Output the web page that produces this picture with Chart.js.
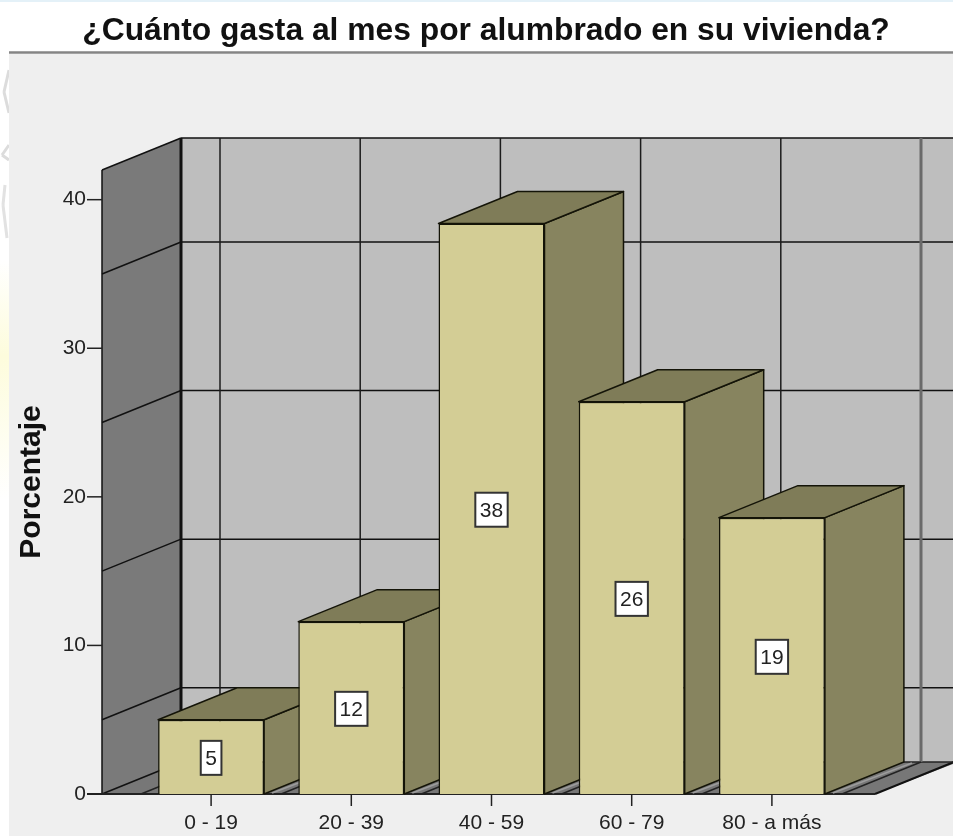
<!DOCTYPE html>
<html lang="es">
<head>
<meta charset="utf-8">
<title>Gasto mensual en alumbrado</title>
<script src="https://cdn.jsdelivr.net/npm/chart.js@4"></script>
<style>
html,body{margin:0;padding:0;background:#fff}
canvas{display:block}
</style>
</head>
<body>
<canvas id="c" width="953" height="836"></canvas>
<script>
const categories = ['0 - 19', '20 - 39', '40 - 59', '60 - 79', '80 - a más'];
const percentages = [5.0, 11.6, 38.4, 26.4, 18.6];
const barLabels = ['5', '12', '38', '26', '19'];
const gridValues = [5, 15, 25, 35];
const chartTitle = '¿Cuánto gasta al mes por alumbrado en su vivienda?';
const yTitle = 'Porcentaje';

const FONT = '"Liberation Sans", Arial, sans-serif';
const DX = 79, DY = 32;
const WALL_IN = 39, FLOOR_OUT = 33;

function poly(ctx, pts, fill, stroke, lw) {
  ctx.beginPath();
  pts.forEach((p, i) => i ? ctx.lineTo(p[0], p[1]) : ctx.moveTo(p[0], p[1]));
  ctx.closePath();
  if (fill) { ctx.fillStyle = fill; ctx.fill(); }
  if (stroke) { ctx.strokeStyle = stroke; ctx.lineWidth = lw || 1.5; ctx.lineJoin = 'round'; ctx.stroke(); }
}
function seg(ctx, x1, y1, x2, y2, color, lw) {
  ctx.beginPath(); ctx.moveTo(x1, y1); ctx.lineTo(x2, y2);
  ctx.strokeStyle = color; ctx.lineWidth = lw; ctx.stroke();
}

const scene = {
  id: 'scene',
  afterLayout(chart) {
    chart.titleBlock.left = 19;
    chart.titleBlock.right = chart.width;
  },
  beforeDraw(chart) {
    const { ctx, width, height } = chart;
    ctx.save();
    ctx.fillStyle = '#ffffff'; ctx.fillRect(0, 0, width, height);
    ctx.fillStyle = '#e4f1f8'; ctx.fillRect(0, 0, width, 2);
    // faint backdrop showing in the left margin
    const g = ctx.createLinearGradient(0, 260, 0, 500);
    g.addColorStop(0, '#ffffff'); g.addColorStop(0.4, '#fdfcdc'); g.addColorStop(1, '#ffffff');
    ctx.fillStyle = g; ctx.fillRect(0, 260, 9, 240);
    seg(ctx, 9, 70, 4, 92, '#dcdcdc', 3);
    seg(ctx, 4, 92, 9, 113, '#dcdcdc', 3);
    seg(ctx, 9, 145, 2, 155, '#dcdcdc', 3);
    seg(ctx, 2, 155, 9, 160, '#dcdcdc', 3);
    seg(ctx, 5, 185, 3, 205, '#e2e2e2', 3);
    seg(ctx, 3, 205, 7, 238, '#e2e2e2', 3);
    ctx.fillStyle = '#efefef'; ctx.fillRect(9, 54, width - 9, height - 54);
    seg(ctx, 9, 52.5, width, 52.5, '#858585', 2.5);
    ctx.restore();
  },
  beforeDatasetsDraw(chart) {
    const { ctx, scales: { x, y }, width } = chart;
    const left = x.left - WALL_IN, base = y.getPixelForValue(0), top = y.top;
    const floorRight = x.right + FLOOR_OUT;
    const step = x.width / categories.length;
    const backTop = top - DY, backBase = base - DY, backLeft = left + DX;
    ctx.save();
    // back wall
    poly(ctx, [[backLeft, backTop], [width + 5, backTop], [width + 5, backBase], [backLeft, backBase]], '#bebebe');
    seg(ctx, backLeft, backTop, width, backTop, '#111', 1.5);
    // left wall
    poly(ctx, [[left, base], [left, top], [backLeft, backTop], [backLeft, backBase]], '#7a7a7a');
    // floor
    poly(ctx, [[left, base], [backLeft, backBase], [width + 5, backBase], [floorRight, base]], '#777777');
    seg(ctx, floorRight, base, floorRight + DX, backBase, '#111', 2);
    seg(ctx, backLeft, backBase, width, backBase, '#222', 1.5);
    // grid lines on the walls
    gridValues.forEach(v => {
      const py = y.getPixelForValue(v);
      seg(ctx, left, py, backLeft, py - DY, '#111', 1.5);
      seg(ctx, backLeft, py - DY, width, py - DY, '#111', 1.5);
    });
    // grid lines at category edges
    for (let i = 0; i <= categories.length; i++) {
      const bx = x.left + i * step;
      const last = i === categories.length;
      seg(ctx, bx + DX, backTop, bx + DX, backBase, last ? '#6a6a6a' : '#1c1c1c', last ? 3 : 1.5);
      seg(ctx, bx, base, bx + DX, backBase, '#222', 1.5);
    }
    seg(ctx, backLeft, backTop, backLeft, backBase, '#111', 3);
    seg(ctx, left, top, backLeft, backTop, '#111', 1.5);
    seg(ctx, left, base, backLeft, backBase, '#111', 1.5);
    seg(ctx, left, top, left, base, '#111', 1.5);
    // axis marks
    seg(ctx, left - 15, base, floorRight, base, '#222', 2);
    y.ticks.forEach(t => {
      const py = y.getPixelForValue(t.value);
      seg(ctx, left - 15, py, left, py, '#222', 1.5);
    });
    x.ticks.forEach((t, i) => {
      const px = x.getPixelForTick(i);
      seg(ctx, px, base, px, base + 12, '#222', 1.5);
    });
    // depth of each bar
    chart.getDatasetMeta(0).data.forEach(b => {
      const l = b.x - b.width / 2, r = b.x + b.width / 2;
      seg(ctx, r + 8, b.base - 1, r + DX + 8, b.base - DY + 1, '#9c9c9c', 1.5);
      poly(ctx, [[r, b.y], [r + DX, b.y - DY], [r + DX, b.base - DY], [r, b.base]], '#87845f', '#141408', 1.5);
      poly(ctx, [[l, b.y], [l + DX, b.y - DY], [r + DX, b.y - DY], [r, b.y]], '#7f7c58', '#141408', 1.5);
    });
    ctx.restore();
  },
  afterDatasetsDraw(chart) {
    const { ctx } = chart;
    ctx.save();
    ctx.font = '21px ' + FONT;
    ctx.textAlign = 'center';
    ctx.textBaseline = 'middle';
    chart.getDatasetMeta(0).data.forEach((b, i) => {
      const cy = (b.y + b.base) / 2 + 1;
      const w = ctx.measureText(barLabels[i]).width + 9;
      ctx.fillStyle = '#ffffff';
      ctx.fillRect(b.x - w / 2, cy - 17, w, 34);
      ctx.strokeStyle = '#333';
      ctx.lineWidth = 2;
      ctx.strokeRect(b.x - w / 2, cy - 17, w, 34);
      ctx.fillStyle = '#222';
      ctx.fillText(barLabels[i], b.x, cy + 1);
    });
    ctx.restore();
  }
};

new Chart(document.getElementById('c'), {
  type: 'bar',
  data: {
    labels: categories,
    datasets: [{
      label: yTitle,
      data: percentages,
      backgroundColor: '#d3cd95',
      borderColor: '#141408',
      borderWidth: 1.5,
      barPercentage: 0.756,
      categoryPercentage: 1
    }]
  },
  plugins: [scene],
  options: {
    responsive: false,
    animation: false,
    devicePixelRatio: 1,
    layout: { padding: { left: 0, right: 111, top: 0, bottom: 0 } },
    plugins: {
      legend: { display: false },
      tooltip: { enabled: false },
      title: {
        display: true,
        text: chartTitle,
        color: '#111',
        font: { family: FONT, size: 31.8, weight: 'bold', lineHeight: 1.2 },
        padding: { top: 12, bottom: 119.8 }
      }
    },
    scales: {
      x: {
        afterFit(s) { s.height = 42; },
        grid: { display: false },
        border: { display: false },
        ticks: { autoSkip: false, maxRotation: 0, padding: 9, color: '#222', font: { family: FONT, size: 21 } }
      },
      y: {
        min: 0,
        max: 42,
        afterFit(s) { s.width = 141; s.paddingTop = 0; s.paddingBottom = 0; },
        grid: { display: false },
        border: { display: false },
        ticks: { stepSize: 10, includeBounds: false, padding: 47, color: '#222', font: { family: FONT, size: 21 } },
        title: {
          display: true,
          text: yTitle,
          color: '#111',
          font: { family: FONT, size: 30, weight: 'bold', lineHeight: 1.2 },
          padding: { top: 14, bottom: 0 }
        }
      }
    }
  }
});
</script>
</body>
</html>
